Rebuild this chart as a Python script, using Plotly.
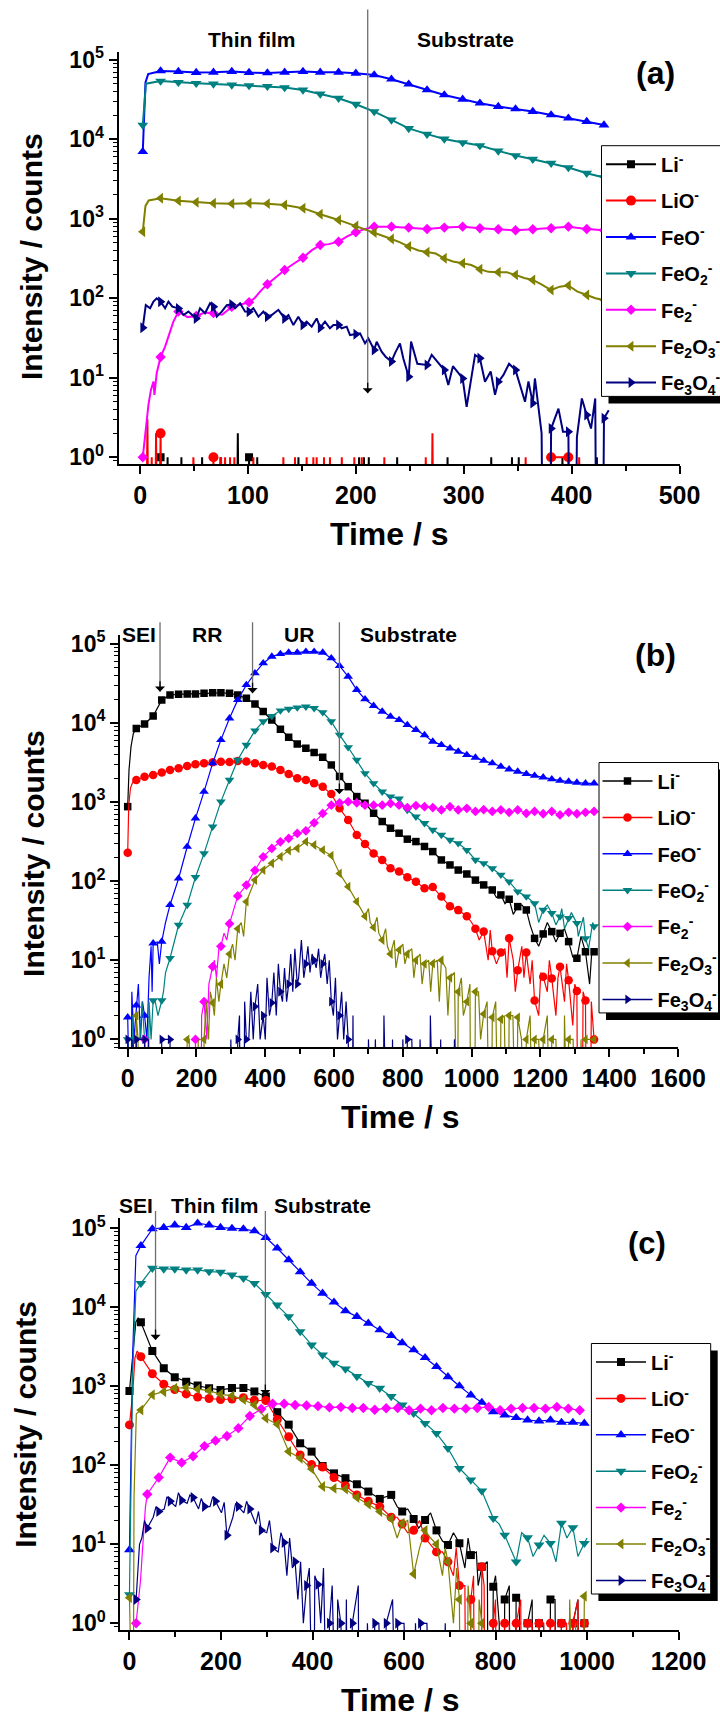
import math
import plotly.graph_objects as go

W, H = 720, 1717
FONT = "Liberation Sans, Arial, Helvetica, sans-serif"
FLOOR = 0.1  # zero counts are drawn below the axis floor so the trace dives to the axis

SPECIES = ["Li", "LiO", "FeO", "FeO2", "Fe2", "Fe2O3", "Fe3O4"]
LABELS = ["Li<sup>-</sup>", "LiO<sup>-</sup>", "FeO<sup>-</sup>", "FeO<sub>2</sub><sup>-</sup>",
          "Fe<sub>2</sub><sup>-</sup>", "Fe<sub>2</sub>O<sub>3</sub><sup>-</sup>",
          "Fe<sub>3</sub>O<sub>4</sub><sup>-</sup>"]
COLORS = ["#000000", "#ff0000", "#0000ff", "#008080", "#ff00ff", "#808000", "#000080"]
SYMBOLS = ["square", "circle", "triangle-up", "triangle-down", "diamond", "triangle-left", "triangle-right"]

Y_TICKVALS = [1, 10, 100, 1000, 10000, 100000]
Y_TICKTEXT = ["10<sup>0</sup>", "10<sup>1</sup>", "10<sup>2</sup>", "10<sup>3</sup>", "10<sup>4</sup>", "10<sup>5</sup>"]

# ---------------- panel (a): thin film ----------------
T_A = [2.5, 19, 35.5, 52, 68, 85, 101, 118, 134, 151, 167, 184, 200, 217, 233, 249, 266, 282,
       299, 315, 332, 348, 364, 381, 397, 414, 430]
A_LI = [0, 1, 0, 0, 0, 0, 1, 0, 0, 0, 0, 0, 0, 0, 0, 0, 0, 0, 0, 0, 0, 0, 0, 0, 0, 0, 0]
A_LIO = [0, 2, 0, 0, 1, 0, 0, 0, 0, 0, 0, 0, 0, 0, 0, 0, 0, 0, 0, 0, 0, 0, 0, 1, 1, 0, 0]
A_FEO = [6980, 72300, 71000, 68900, 69500, 71000, 68900, 68200, 69500, 71000, 69500, 69500, 67600,
         64400, 56900, 49200, 41700, 36100, 31800, 28400, 25800, 24100, 22300, 20200, 18400, 16700, 15100]
A_FEO2 = [15100, 54000, 52000, 50600, 49600, 48200, 47300, 46400, 44700, 41700, 37200, 32800, 27600,
          22300, 17500, 13700, 11600, 10100, 9080, 8330, 7140, 6240, 5610, 5000, 4410, 3740, 3300]
A_FE2 = [1, 18.3, 68, 60, 65, 78, 89, 150, 227, 324, 468, 515, 676, 796, 796, 774, 745, 774, 796,
         759, 738, 716, 738, 759, 796, 745, 716]
A_FE2O3 = [688, 1810, 1680, 1610, 1570, 1550, 1570, 1550, 1490, 1360, 1140, 967, 813, 670, 557, 447,
           379, 318, 275, 232, 212, 197, 170, 127, 145, 110, 95]
A_FE3O4 = [42.7, 90.6, 74.6, 55.8, 78.3, 83.8, 67.7, 58.6, 55.8, 46.1, 42.7, 46.1, 35.2, 22.4, 16,
           10.3, 14.5, 12.5, 9.8, 17.6, 8.9, 12.5, 4.8, 2.3, 2.1, 3.4, 3.1]

A_LI_SPIKES = [(25.5, 1), (38.3, 1), (57.5, 1), (74.5, 1), (90.6, 2), (108.6, 1), (146.8, 1), (203, 1),
               (207.5, 1), (212, 1), (238.3, 1), (285, 1), (325.5, 1), (344.7, 1), (351, 1), (391.5, 1),
               (423.4, 1)]
A_LIO_SPIKES = [(6.8, 3), (10.8, 1), (14.8, 2), (49.4, 1), (75.1, 1), (78.8, 1), (83.4, 1), (87.4, 1),
                (105, 1), (132.8, 1), (143.6, 1), (154.4, 1), (160.6, 1), (163.7, 1), (170.5, 1), (176, 1),
                (187, 1), (198.6, 1), (205.5, 1), (226.4, 1), (264.8, 1), (271, 2), (357.4, 1), (407, 1)]
A_FEO_EXTRA = [(5, 52000), (7.5, 66000)]
A_FEO2_EXTRA = [(5.5, 50000)]
A_FE2_EXTRA = [(7.7, 4.5), (10, 7), (12.4, 9), (13.3, 6.1), (15.4, 11.4), (23.2, 24.7), (27.8, 38),
               (30.9, 51), (44, 58), (60, 66), (76, 62), (93, 84), (106, 100), (112, 125), (126, 185),
               (142, 270), (159, 400), (175, 480), (192, 600), (208, 740)]
A_FE2O3_EXTRA = [(5, 1450), (8, 1700), (241, 505), (258, 400), (274, 365), (290, 290), (307, 262),
                 (323, 215), (340, 212), (356, 180), (372, 150), (389, 140), (405, 122), (422, 100)]
A_FE3O4_EXTRA = [(5.3, 82), (9.3, 75), (12.4, 91), (15.4, 100), (23.2, 75), (26.3, 91), (29.9, 78.5),
                 (40.2, 61.6), (44.8, 68), (55.6, 75), (60.2, 64.7), (64.9, 86.5), (71, 58.7), (75.7, 68),
                 (80.3, 82), (88, 75), (92.7, 86.5), (97.3, 68), (105, 75), (109.7, 58.7), (114.3, 68),
                 (122, 61.6), (128.2, 71.6), (137.5, 61.6), (142.1, 46), (146.7, 58.7), (154.4, 50.8),
                 (159.1, 44), (163.7, 55.8), (171.4, 50.8), (176, 41.9), (179.2, 46), (186.9, 41.9),
                 (191.5, 44), (194.6, 34.5), (203.9, 36.2), (208.5, 27.1), (211.6, 31.3), (219.3, 28.4),
                 (223.9, 21.3), (227.6, 18.4), (236.2, 20.3), (240.9, 27.1), (244, 17.5), (251.2, 28.5),
                 (257, 15), (270.3, 19.4), (285.7, 8.1), (290, 14), (302.7, 4.3), (310.5, 19.4),
                 (319.7, 8.9), (325, 12), (329, 6.1), (336.7, 10.8), (342, 15), (356.8, 5), (360, 9),
                 (366, 9.8), (372.2, 2), (378, 0), (387.8, 4.1), (392, 2.1), (400.5, 0), (404.9, 1.8),
                 (409.5, 5.5), (418, 2.3), (421.9, 5.5), (425, 0), (434.4, 3.9)]

# ---------------- panel (b): cycled electrode ----------------
T_B = [0, 25, 49, 74, 99, 123, 148, 173, 197, 222, 247, 271, 296, 320, 345, 370, 394, 419, 444, 468,
       493, 518, 542, 567, 592, 616, 641, 666, 690, 715, 740, 764, 789, 813, 838, 863, 887, 912, 937,
       961, 986, 1011, 1035, 1060, 1085, 1109, 1134, 1159, 1183, 1208, 1233, 1257, 1282, 1306, 1331, 1356]
B_LI = [873, 8510, 9660, 12200, 19500, 22500, 23000, 23200, 23200, 23600, 24000, 24000,
        23600, 22500, 20400, 17300, 13900, 10900, 8300, 6580, 5420, 4780, 4220, 3680, 2940, 2100, 1560,
        1170, 964, 721, 566, 466, 403, 339, 316, 274,
        236, 185, 160, 138, 123, 103, 89.5, 77.3, 66.9, 59, 47.6, 43.2, 18.9, 21.5, 23, 21.9, 17.2, 10.6,
        12.8, 12.8]
B_LIO = [229, 1900, 2090, 2190, 2350, 2540, 2660, 2850, 2990, 3080, 3170, 3230,
         3200, 3300, 3240, 3080, 2940, 2800, 2540, 2260, 1990, 1900, 1720, 1560, 1260, 832, 592, 383, 294,
         224, 185, 145, 132, 112, 98.5, 81,
         84, 64, 48, 43, 36, 25, 23, 13, 12.5, 19, 7.5, 12.5, 3.1, 6.2, 5.9, 8.3, 5.6, 4.1, 3.1, 1]
B_FEO = [1.9, 2.7, 2, 16.4, 17.2, 50, 108, 272, 621, 1350, 3090, 6090,
         11400, 19500, 30100, 42400, 56700, 68700, 74300, 77200, 77200, 79400, 79400, 77200, 65600, 52400,
         38400, 26100, 19900, 16400, 13900, 12000, 10900, 9400, 8150, 7000,
         5790, 5260, 4770, 4330, 3930, 3640, 3330, 3090, 2800, 2590, 2420, 2260, 2150, 2050, 1940, 1860,
         1810, 1760, 1720, 1720]
B_FEO2 = [1, 1, 1, 3.1, 3.1, 10.6, 27.9, 50, 112, 224, 488, 1010,
          1900, 3400, 5260, 7980, 10400, 12200, 14300, 15000, 15600, 16000, 15300, 13600, 10400, 7030,
          4910, 3400, 2300, 1720, 1350, 1170, 1100, 790, 652, 540,
          443, 383, 331, 300, 247, 185, 168, 145, 120, 98.5, 73.8, 63.7, 52.5, 43.3, 39.3, 35.6, 34, 29.4,
          18.9, 26.7]
B_FE2 = [0, 0, 1, 0, 0, 0, 0, 0, 1, 3, 8.3, 15,
         29, 65, 89, 137, 203, 259, 314, 346, 400, 432, 546, 716, 912, 977, 1010, 977, 912, 912, 912, 957, 912,
         850, 900, 873, 850, 792, 873, 792, 832, 760, 800, 760, 792, 740, 792, 720, 760, 710, 760, 686, 740,
         710, 740, 760]
B_FE2O3 = [0, 2, 0, 0, 0, 0, 0, 1, 0, 1, 2.9, 5,
           12, 25, 55, 103, 138, 168, 204, 243, 260, 315, 286, 247, 210, 125, 85, 55, 36, 26, 18, 12, 13.5,
           12, 10, 9,
           9.1, 10, 6, 4, 3, 4, 2.1, 1.9, 1.8, 2, 1.9, 1, 1, 1, 1, 0, 1, 0, 1, 1]
B_FE3O4 = [1, 1, 1, 0, 1, 1, 0, 0, 0, 0, 0, 0,
           0, 1, 1, 2.6, 2, 2.9, 4, 5, 5, 9, 10, 9, 3, 2, 1, 0, 0, 0, 0, 0, 0, 1, 0, 0,
           0, 0, 0, 0, 0, 0, 0, 0, 0, 0, 0, 0, 0, 0, 0, 0, 0, 0, 0, 0]

B_LI_EXTRA = [(3.8, 2540), (9.6, 5000), (16.4, 7360), (1072, 62), (1097, 52), (1121, 38), (1146, 50),
              (1170, 28), (1195, 15), (1220, 30), (1245, 17), (1270, 25), (1294, 11), (1318, 20), (1343, 5),
              (1350, 14)]
B_LIO_EXTRA = [(3, 900), (8, 1500), (14, 1750), (1000, 30), (1022, 18), (1048, 10), (1054, 24), (1072, 9),
               (1097, 14), (1103, 6), (1121, 10), (1127, 4), (1146, 15), (1152, 6), (1170, 5), (1176, 10),
               (1195, 2), (1201, 7), (1220, 4), (1226, 10), (1245, 2), (1251, 6), (1270, 3), (1276, 9),
               (1294, 1.5), (1300, 5), (1318, 0), (1324, 4), (1343, 0), (1348, 3)]
B_FEO_EXTRA = [(6, 0), (12, 4), (18, 1), (31, 5), (37, 1), (43, 3), (56, 1), (62, 6), (68, 15), (71, 4),
               (86, 17), (92, 9), (110, 30)]
B_FEO2_EXTRA = [(8, 0), (15, 2), (20, 0), (36, 1), (42, 3), (55, 0), (62, 3), (68, 1), (80, 3), (88, 2),
                (104, 4), (110, 7), (1195, 30), (1220, 50), (1245, 28), (1262, 45), (1270, 25), (1290, 40),
                (1310, 20), (1325, 35), (1340, 14), (1352, 30)]
B_FE2_EXTRA = [(205, 0), (215, 2), (230, 1), (236, 5), (252, 10), (258, 6), (265, 14), (280, 22), (288, 18)]
B_FE2O3_EXTRA = [(20, 0), (30, 1), (36, 0), (179, 1), (186, 0), (205, 1), (213, 0), (228, 3), (235, 1),
                 (240, 4), (252, 2), (258, 6), (265, 3), (280, 9), (288, 6), (305, 16), (312, 10), (330, 30),
                 (337, 20), (700, 45), (705, 30), (725, 35), (730, 22), (750, 25), (755, 15), (775, 18),
                 (780, 8), (800, 16), (806, 9), (826, 14), (832, 6), (850, 12), (856, 5), (875, 10), (881, 4),
                 (900, 10), (906, 3), (925, 8), (931, 2), (950, 7), (956, 0), (970, 6), (976, 2), (995, 5),
                 (1000, 0), (1020, 4), (1026, 1), (1045, 3), (1050, 0), (1070, 3), (1076, 0), (1095, 2),
                 (1100, 0), (1120, 2), (1126, 0), (1145, 1), (1150, 0), (1170, 2), (1176, 0), (1195, 1),
                 (1201, 0), (1220, 2), (1226, 0), (1245, 1), (1251, 0), (1270, 2), (1276, 0), (1295, 1),
                 (1301, 0), (1318, 1), (1324, 0), (1345, 1)]
B_FE3O4_EXTRA = [(10, 0), (15, 1), (20, 0), (55, 0), (60, 1), (66, 0), (300, 1), (312, 0), (325, 2),
                 (332, 0), (340, 3), (352, 1), (358, 4), (365, 1), (378, 5), (385, 1), (400, 1), (405, 6),
                 (412, 2), (425, 7), (432, 2), (438, 9), (450, 3), (456, 8), (462, 3), (474, 12), (480, 4),
                 (486, 14), (497, 6), (505, 18), (512, 6), (524, 15), (530, 7), (536, 12), (548, 8),
                 (555, 14), (561, 6), (573, 12), (580, 5), (586, 10), (598, 2), (604, 6), (610, 1), (622, 4),
                 (628, 1), (635, 3), (647, 0), (655, 2), (660, 0), (700, 1), (706, 0), (720, 1), (726, 0),
                 (745, 2), (751, 0), (770, 1), (776, 0), (800, 1), (806, 0), (826, 1), (832, 0), (850, 1),
                 (856, 0), (880, 2), (886, 0), (910, 1), (916, 0), (950, 1), (956, 0)]

# ---------------- panel (c): second electrode ----------------
T_C = [0, 25, 50, 75, 99, 124, 149, 174, 199, 224, 249, 273, 298, 323, 348, 373, 398, 422, 447, 472,
       497, 522, 547, 572, 596, 621, 646, 671, 696, 721, 746, 770, 795, 820, 845, 870, 895, 920, 944, 969, 994]
T_C2 = [14.5, 39, 64, 89, 114, 139, 164, 188, 213, 238, 263, 288, 313, 338, 362, 387, 412, 437, 462, 487,
        511, 536, 561, 586, 611, 636, 660, 685, 710, 735, 760, 785, 810, 834, 859, 884, 909, 934, 959, 984]
C_LI = [872, 6460, 2800, 1690, 1300, 1140, 1020, 944, 900, 950, 950, 860, 740, 470, 327, 190, 149, 98,
        79, 68.6, 57.5, 46.5, 37.5, 42.2, 26, 20.9, 20.3, 15, 9.8, 10.3, 7.3, 5.2, 2.9, 2, 2.1, 1, 1, 2, 1, 1, 1]
C_LIO = [324, 2370, 1440, 1060, 910, 800, 730, 700, 680, 690, 718, 665, 660, 380, 230, 135, 102, 95, 70,
         55, 42, 35, 30, 22, 18, 15, 12, 8, 6, 3, 2, 5.2, 1, 1, 1, 1, 1, 1, 1, 1, 1]
C_FEO = [8.5, 60200, 98000, 102000, 110000, 102000, 116000, 110000, 102000, 99500, 98000, 92400, 76200,
         55900, 39800, 28000, 20100, 15000, 11600, 8990, 7620, 6270, 5160, 4380, 3550, 2880, 2300, 1770,
         1320, 1010, 773, 625, 476, 432, 400, 374, 363, 374, 349, 349, 340]
C_FEO2 = [2.3, 20100, 31200, 30600, 30600, 29700, 29700, 28300, 27800, 25700, 23300, 20100, 14600, 10700,
          7620, 4920, 3340, 2490, 1960, 1660, 1330, 1090, 946, 743, 580, 455, 340, 254, 164, 91.6, 65.2,
          47.3, 21.3, 13.1, 6, 12.1, 9.8, 10.3, 18.5, 16.3, 10.3]
C_FE2 = [1, 43, 70, 125, 108, 130, 175, 205, 235, 295, 420, 515, 600, 600, 580, 570, 560, 540, 545, 530,
         530, 505, 526, 531, 497, 521, 497, 531, 521, 521, 531, 547, 497, 521, 531, 531, 521, 547, 521, 497]
C_FE2O3 = [2.1, 501, 780, 855, 944, 962, 920, 880, 791, 760, 680, 580, 393, 330, 149, 123, 90, 54, 51, 50,
           39, 32, 26, 21, 18.5, 4.2, 15, 10, 6, 2, 1, 1, 0, 0, 0, 0, 0, 0, 0, 0, 2.2]
C_FE3O4 = [2, 16, 26, 35, 36, 39, 30, 35, 13, 30, 28, 15, 9, 10.5, 6, 3, 3.1, 1, 1, 1,
           0, 1, 1, 1, 0, 1, 0, 0, 0, 0, 0, 0, 0, 0, 0, 0, 0, 0, 0, 0]

C_LI_EXTRA = [(8, 3000), (14, 6500), (19, 7300), (585, 30), (608, 28), (632, 16), (658, 25), (684, 11),
              (708, 14), (733, 5), (740, 12), (758, 8), (762, 3), (782, 6), (787, 0), (800, 4), (808, 1),
              (815, 0), (830, 3), (835, 0), (852, 2), (858, 0), (880, 2), (885, 0), (905, 1), (910, 0),
              (930, 2), (935, 0), (955, 1), (962, 0), (980, 2), (986, 0), (1000, 1)]
C_LIO_EXTRA = [(7, 800), (12, 2300), (17, 2800), (585, 22), (608, 14), (634, 20), (658, 10), (684, 8),
               (708, 4), (714, 9), (733, 3), (740, 0), (752, 4), (758, 0), (775, 3), (780, 0), (800, 2),
               (806, 0), (830, 1), (836, 0), (855, 2), (860, 0), (880, 1), (886, 0), (905, 1), (911, 0),
               (930, 1), (936, 0), (955, 1), (961, 0), (980, 2), (986, 0)]
C_FEO_EXTRA = [(7, 2500), (14, 45000)]
C_FEO2_EXTRA = [(7, 1500), (14, 16000), (808, 18), (832, 9), (857, 14), (882, 7), (906, 13), (932, 6),
                (956, 12), (980, 7), (1000, 12)]
C_FE2_EXTRA = [(24, 3.4), (31, 14), (35, 30)]
C_FE2O3_EXTRA = [(5, 0), (10, 40), (15, 450), (585, 12), (608, 20), (634, 9), (658, 12), (684, 4), (690, 9),
                 (708, 1), (715, 5), (733, 0), (740, 3), (758, 0), (764, 2), (780, 0), (955, 0), (962, 2),
                 (968, 0), (975, 1), (982, 0)]
C_FE3O4_EXTRA = [(18, 5), (22, 10), (27, 12), (33, 20), (52, 22), (58, 30), (76, 28), (82, 40), (101, 30),
                 (107, 45), (126, 33), (132, 42), (151, 28), (157, 38), (176, 30), (182, 40), (201, 25),
                 (207, 34), (226, 22), (232, 33), (250, 25), (256, 35), (276, 18), (282, 26), (300, 14),
                 (306, 20), (325, 8), (331, 14), (344, 4), (350, 12), (356, 5), (368, 2), (374, 6), (380, 1),
                 (393, 5), (399, 0), (405, 4), (418, 1), (424, 5), (430, 0), (443, 3), (449, 0), (455, 2),
                 (468, 0), (474, 2), (480, 0), (500, 3), (505, 0), (520, 1), (525, 0), (545, 1), (550, 0),
                 (575, 2), (580, 0), (600, 1), (605, 0), (625, 1), (630, 0), (650, 1), (655, 0), (690, 1),
                 (695, 0)]

# region boundaries marked with arrows: (time, intensity at the arrow tip)
ARROWS_A = [(211, 6.4)]
ARROWS_B = [(94, 24800), (363, 23700), (615.5, 1260)]
ARROWS_C = [(57, 3860), (297, 776)]


def build_line(t_mk, v_mk, extra=(), spikes=(), pad=1.0):
    """Merge marker samples with line-only samples; zero counts drop straight to the floor."""
    pts = list(zip(t_mk, v_mk)) + [tuple(p) for p in extra]
    for t, v in spikes:
        pts += [(t - pad, 0.0), (t, v), (t + pad, 0.0)]
    pts.sort(key=lambda p: p[0])
    out = []
    n = len(pts)
    for i, (t, v) in enumerate(pts):
        if v > 0 and i > 0 and pts[i - 1][1] <= 0 and t - pts[i - 1][0] > 2 * pad:
            out.append((t - pad, 0.0))
        out.append((t, v))
        if v > 0 and i < n - 1 and pts[i + 1][1] <= 0 and pts[i + 1][0] - t > 2 * pad:
            out.append((t + pad, 0.0))
    return [p[0] for p in out], [p[1] if p[1] > 0 else FLOOR for p in out]


# panel geometry in page pixels: x-domain, x-range, y-domain (top, bottom), log y-range
GEOM = [
    dict(xd=(118.5, 679.5), xr=(-20, 500), yd=(51.8, 464.3), yr=(-0.088, 5.1), dtick=100, minor=50),
    dict(xd=(120.0, 678.0), xr=(-22.4, 1600), yd=(635.0, 1047.3), yr=(-0.1, 5.11), dtick=200, minor=100),
    dict(xd=(120.3, 678.6), xr=(-20, 1200), yd=(1218.0, 1630.0), yr=(-0.085, 5.13), dtick=200, minor=100),
]

PANEL_SERIES = [
    dict(times=[T_A] * 7,
         values=[A_LI, A_LIO, A_FEO, A_FEO2, A_FE2, A_FE2O3, A_FE3O4],
         extras=[(), (), A_FEO_EXTRA, A_FEO2_EXTRA, A_FE2_EXTRA, A_FE2O3_EXTRA, A_FE3O4_EXTRA],
         spikes=[A_LI_SPIKES, A_LIO_SPIKES, (), (), (), (), ()],
         pad=0.8, lw=2.0, msize=[8, 10, 9.5, 9.5, 8, 9.5, 9.5]),
    dict(times=[T_B] * 7,
         values=[B_LI, B_LIO, B_FEO, B_FEO2, B_FE2, B_FE2O3, B_FE3O4],
         extras=[B_LI_EXTRA, B_LIO_EXTRA, B_FEO_EXTRA, B_FEO2_EXTRA, B_FE2_EXTRA, B_FE2O3_EXTRA, B_FE3O4_EXTRA],
         spikes=[()] * 7, pad=2.0, lw=1.2, msize=[7.5, 8.5, 8.5, 8.5, 7.5, 8.5, 8.5]),
    dict(times=[T_C, T_C, T_C, T_C, T_C2, T_C, T_C2],
         values=[C_LI, C_LIO, C_FEO, C_FEO2, C_FE2, C_FE2O3, C_FE3O4],
         extras=[C_LI_EXTRA, C_LIO_EXTRA, C_FEO_EXTRA, C_FEO2_EXTRA, C_FE2_EXTRA, C_FE2O3_EXTRA, C_FE3O4_EXTRA],
         spikes=[()] * 7, pad=1.5, lw=1.2, msize=[8, 9, 9.5, 9.5, 8, 9.5, 9.5]),
]

LEGEND_BOX = [(601.5, 145.7, 760.0, 396.4), (599.0, 762.5, 718.5, 1012.9), (591.4, 1343.5, 710.7, 1594.0)]
LEGEND_TEXT_X = [661.0, 657.5, 651.0]
SHADOW = 7.0

TEXTS = [
    ("Thin film", 251.6, 39.3, 21), ("Substrate", 465.0, 39.3, 21), ("(a)", 655.6, 73.2, 32),
    ("SEI", 139.0, 634.0, 21), ("RR", 206.6, 634.0, 21), ("UR", 299.0, 634.0, 21),
    ("Substrate", 408.6, 634.0, 21), ("(b)", 655.6, 654.6, 32),
    ("SEI", 136.4, 1205.7, 21), ("Thin film", 214.9, 1205.7, 21), ("Substrate", 322.8, 1205.7, 21),
    ("(c)", 647.4, 1243.8, 31),
]
X_TITLES = [(389.0, 534.0), (400.6, 1117.0), (400.6, 1700.0)]
Y_TITLES = [(31.0, 257.0), (33.3, 853.6), (25.2, 1424.6)]
ARROW_TOPS = [7.9, 620.7, 1209.5]


def bold(size):
    return dict(family=FONT, size=size, color="black", weight="bold")


fig = go.Figure()
layout = dict(width=W, height=H, margin=dict(l=0, r=0, t=0, b=0, autoexpand=False),
              paper_bgcolor="white", plot_bgcolor="white", showlegend=True,
              font=dict(family=FONT, color="black"), shapes=[], annotations=[])

for p, (geo, ser) in enumerate(zip(GEOM, PANEL_SERIES)):
    sfx = "" if p == 0 else str(p + 1)
    xa, ya = "x" + sfx, "y" + sfx
    leg = "legend" + sfx
    for i in range(7):
        color = COLORS[i]
        lt, lv = build_line(ser["times"][i], ser["values"][i], ser["extras"][i], ser["spikes"][i], ser["pad"])
        fig.add_trace(go.Scatter(x=lt, y=lv, mode="lines", line=dict(color=color, width=ser["lw"]),
                                 xaxis=xa, yaxis=ya, showlegend=False, hoverinfo="skip"))
        mk = [(t, v) for t, v in zip(ser["times"][i], ser["values"][i]) if v > 0]
        fig.add_trace(go.Scatter(x=[m[0] for m in mk], y=[m[1] for m in mk], mode="markers",
                                 marker=dict(symbol=SYMBOLS[i], size=ser["msize"][i], color=color,
                                             line=dict(width=0)),
                                 xaxis=xa, yaxis=ya, showlegend=False, hoverinfo="skip"))
        fig.add_trace(go.Scatter(x=[None], y=[None], mode="lines+markers", name=LABELS[i],
                                 line=dict(color=color, width=max(ser["lw"], 1.5)),
                                 marker=dict(symbol=SYMBOLS[i], size=ser["msize"][i], color=color),
                                 xaxis=xa, yaxis=ya, legend=leg, legendgroup=f"{p}-{SPECIES[i]}"))

    x0, x1 = geo["xd"]
    yt, yb = geo["yd"]
    r0, r1 = geo["yr"]
    layout["xaxis" + sfx] = dict(
        domain=[x0 / W, x1 / W], range=list(geo["xr"]), anchor=ya, showline=True, linecolor="black",
        linewidth=2, ticks="outside", ticklen=8, tickwidth=1.5, tickcolor="black", tick0=0,
        dtick=geo["dtick"], showgrid=False, zeroline=False, tickfont=bold(25),
        minor=dict(ticks="outside", ticklen=5, tickwidth=1.5, tickcolor="black", tick0=0,
                   dtick=geo["minor"], showgrid=False))
    layout["yaxis" + sfx] = dict(
        type="log", domain=[1 - yb / H, 1 - yt / H], range=[r0, r1], anchor=xa, showline=True,
        linecolor="black", linewidth=2, ticks="outside", ticklen=8, tickwidth=1.5, tickcolor="black",
        tickvals=Y_TICKVALS, ticktext=Y_TICKTEXT, showgrid=False, zeroline=False, tickfont=bold(23),
        minor=dict(ticks="outside", ticklen=4, tickwidth=1.2, tickcolor="black", dtick="D1", showgrid=False))

    # legend frame with drop shadow, the legend itself sits on top of it
    bl, bt, br, bb = LEGEND_BOX[p]
    layout["shapes"].append(dict(type="rect", xref="paper", yref="paper", layer="above",
                                 x0=(bl + SHADOW) / W, x1=(br + SHADOW) / W,
                                 y0=1 - (bb + SHADOW) / H, y1=1 - (bt + SHADOW) / H,
                                 fillcolor="black", line=dict(width=0)))
    layout["shapes"].append(dict(type="rect", xref="paper", yref="paper", layer="above",
                                 x0=bl / W, x1=br / W, y0=1 - bb / H, y1=1 - bt / H,
                                 fillcolor="white", line=dict(color="black", width=1)))
    iw = 50
    layout[leg] = dict(x=(LEGEND_TEXT_X[p] - iw - 10) / W, y=1 - (bt - 1) / H, xanchor="left", yanchor="top",
                       bgcolor="rgba(0,0,0,0)", borderwidth=0, font=bold(20), itemwidth=iw,
                       tracegroupgap=7.4, traceorder="grouped", itemclick=False, itemdoubleclick=False)

    # region boundary arrows: grey guide line from above the panel down to a black arrowhead
    arrows = [ARROWS_A, ARROWS_B, ARROWS_C][p]
    top_log = r0 + (yb - ARROW_TOPS[p]) / (yb - yt) * (r1 - r0)
    for t, v in arrows:
        layout["annotations"].append(dict(
            x=t, y=math.log10(v), xref=xa, yref=ya, ax=t, ay=top_log, axref=xa, ayref=ya,
            text="", showarrow=True, arrowhead=0, arrowwidth=1.3, arrowcolor="#6e6e6e", standoff=0))
        layout["annotations"].append(dict(
            x=t, y=math.log10(v), xref=xa, yref=ya, ax=0, ay=-12, text="", showarrow=True, arrowhead=1,
            arrowsize=1.3, arrowwidth=1.3, arrowcolor="black", standoff=0))

    xt = X_TITLES[p]
    layout["annotations"].append(dict(text="Time / s", x=xt[0] / W, y=1 - xt[1] / H, xref="paper",
                                      yref="paper", showarrow=False, xanchor="center", yanchor="middle",
                                      font=bold(32)))
    ytl = Y_TITLES[p]
    layout["annotations"].append(dict(text="Intensity / counts", x=ytl[0] / W, y=1 - ytl[1] / H,
                                      xref="paper", yref="paper", showarrow=False, xanchor="center",
                                      yanchor="middle", textangle=-90, font=bold(30)))

for txt, xp, yp, size in TEXTS:
    layout["annotations"].append(dict(text=txt, x=xp / W, y=1 - yp / H, xref="paper", yref="paper",
                                      showarrow=False, xanchor="center", yanchor="middle", font=bold(size)))

fig.update_layout(**layout)
fig.write_html("out.html")
